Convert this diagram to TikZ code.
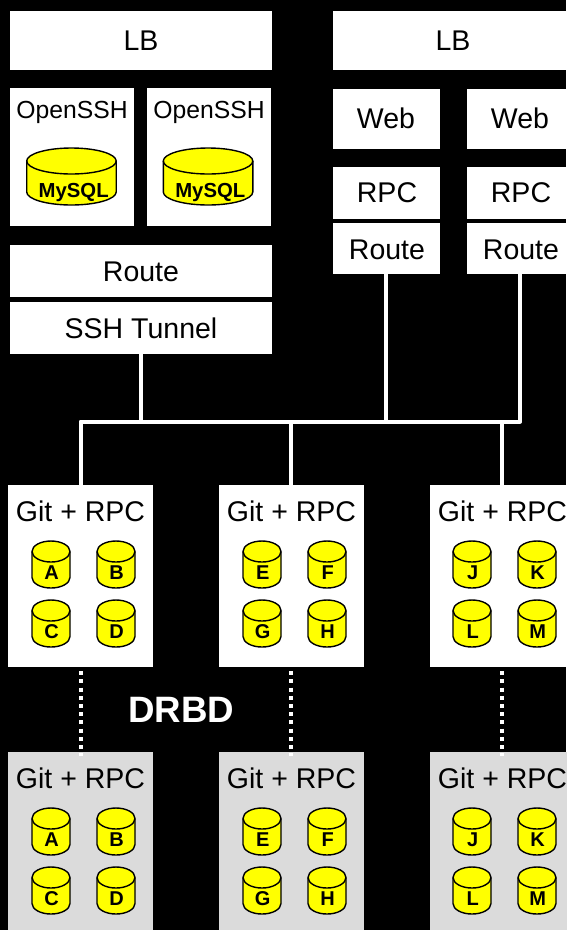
\documentclass[tikz,border=0pt]{standalone}
\usepackage{fontspec}
\setmainfont{Liberation Sans}
\definecolor{cylyellow}{RGB}{255,255,0}
\newcommand{\cylshape}[5]{% x, y, w, h, ry
  \path[cylfill] (#1,#2+#5) arc[start angle=180,end angle=360,x radius=#3/2,y radius=#5]
    -- (#1+#3,#2+#4-#5) arc[start angle=0,end angle=180,x radius=#3/2,y radius=#5] -- cycle;
  \draw[cylline] (#1,#2+#5) arc[start angle=180,end angle=540,x radius=#3/2,y radius=#5];
  \draw[cylline] (#1,#2+#5) -- (#1,#2+#4-#5) arc[start angle=180,end angle=0,x radius=#3/2,y radius=#5] -- (#1+#3,#2+#5);
}
\newcommand{\smallcyl}[3]{\cylshape{#1}{#2}{38}{47}{10.5}%
  \node[cyltext] at (#1+19.7,#2+38.3) {#3};}
\newcommand{\bigcyl}[2]{\cylshape{#1}{#2}{89.5}{57}{13}%
  \node[cyltext,font=\fontsize{20.3}{22}\selectfont\bfseries] at (#1+47,#2+49.3) {MySQL};}
\newcommand{\gitbox}[4]{% name, x, y, style
  \node[#4,minimum width=145pt,minimum height=182pt] (#1) at (#2+72.5,#3+91) {};
  \node[boxtext] (#1t) at (#2+72.5,#3+36) {Git + RPC};
}
\newcommand{\fourcyl}[6]{% x, y, A,B,C,D
  \smallcyl{#1+24}{#2+56}{#3}\smallcyl{#1+89}{#2+56}{#4}%
  \smallcyl{#1+24}{#2+115}{#5}\smallcyl{#1+89}{#2+115}{#6}}
\begin{document}
\begin{tikzpicture}[x=1pt,y=-1pt,
  whitebox/.style={fill=white,draw=none,inner sep=0pt,outer sep=0pt},
  greybox/.style={fill=black!14,draw=none,inner sep=0pt,outer sep=0pt},
  boxtext/.style={inner sep=0pt,outer sep=0pt,anchor=base,font=\fontsize{28.5}{30}\selectfont,text=black},
  sshtext/.style={inner sep=0pt,outer sep=0pt,anchor=base,font=\fontsize{24.7}{26}\selectfont,text=black},
  cylfill/.style={fill=cylyellow},
  cylline/.style={draw=black,line width=1.4pt},
  cyltext/.style={inner sep=0pt,outer sep=0pt,anchor=base,font=\fontsize{20}{22}\selectfont\bfseries,text=black},
  conn/.style={draw=white,line width=4pt,line join=round},
  drbd/.style={draw=white,line width=4pt,dash pattern=on 4pt off 4.2pt},
]
\useasboundingbox[fill=black] (0,0) rectangle (566,930);
% top boxes
\node[whitebox,minimum width=262pt,minimum height=59.5pt] (lblbox) at (141,40.25) {};
\node[boxtext] (lbl) at (141,50) {LB};
\node[whitebox,minimum width=240pt,minimum height=59.5pt] (lbrbox) at (452.7,40.25) {};
\node[boxtext] (lbr) at (453,50) {LB};
\node[whitebox,minimum width=124pt,minimum height=138pt] (ssha) at (72,157) {};
\node[whitebox,minimum width=124pt,minimum height=138pt] (sshb) at (209,157) {};
\node[sshtext] (sshat) at (72,118) {OpenSSH};
\node[sshtext] (sshbt) at (209,118) {OpenSSH};
\bigcyl{26.7}{148}
\bigcyl{163.3}{148}
\node[whitebox,minimum width=262pt,minimum height=52pt] (routelbox) at (141,271) {};
\node[boxtext] (routel) at (141,281.7) {Route};
\node[whitebox,minimum width=262pt,minimum height=52pt] (tunnelbox) at (141,328.2) {};
\node[boxtext] (tunnel) at (141,338.5) {SSH Tunnel};
% right stacks
\node[whitebox,minimum width=107.5pt,minimum height=60pt] (webabox) at (386.5,118.5) {};
\node[boxtext] (weba) at (386,128.3) {Web};
\node[whitebox,minimum width=107.5pt,minimum height=52.5pt] (rpcabox) at (386.5,193) {};
\node[boxtext] (rpca) at (387,202.7) {RPC};
\node[whitebox,minimum width=107.5pt,minimum height=51pt] (routeabox) at (386.5,248.8) {};
\node[boxtext] (routea) at (387,259.3) {Route};
\node[whitebox,minimum width=107.5pt,minimum height=60pt] (webbbox) at (520.75,118.5) {};
\node[boxtext] (webb) at (520,128.3) {Web};
\node[whitebox,minimum width=107.5pt,minimum height=52.5pt] (rpcbbox) at (520.75,193) {};
\node[boxtext] (rpcb) at (521,202.7) {RPC};
\node[whitebox,minimum width=107.5pt,minimum height=51pt] (routebbox) at (520.75,248.8) {};
\node[boxtext] (routeb) at (521,259.3) {Route};
% git boxes
\gitbox{ga}{8}{485}{whitebox}
\gitbox{gb}{219}{485}{whitebox}
\gitbox{gc}{430}{485}{whitebox}
\gitbox{sa}{8}{752}{greybox}
\gitbox{sb}{219}{752}{greybox}
\gitbox{sc}{430}{752}{greybox}
\fourcyl{8}{485}{A}{B}{C}{D}
\fourcyl{219}{485}{E}{F}{G}{H}
\fourcyl{429}{485}{J}{K}{L}{M}
\fourcyl{8}{752}{A}{B}{C}{D}
\fourcyl{219}{752}{E}{F}{G}{H}
\fourcyl{429}{752}{J}{K}{L}{M}
% connectors
\coordinate (bus) at (141,421.5);
\draw[conn] ([yshift=4pt]tunnelbox.south) -- (bus);
\draw[conn] ([yshift=4pt,xshift=-0.5pt]routeabox.south) -- ([xshift=-0.5pt]routeabox.south |- bus);
\draw[conn] ([yshift=4pt,xshift=-0.5pt]routebbox.south) -- ([xshift=-0.5pt]routebbox.south |- bus) -- (ga.north |- bus) -- ([yshift=-4pt]ga.north);
\draw[conn] ([xshift=-0.4pt]gb.north |- bus) -- ([yshift=-4pt,xshift=-0.4pt]gb.north);
\draw[conn] ([xshift=-0.8pt]gc.north |- bus) -- ([yshift=-4pt,xshift=-0.8pt]gc.north);
\draw[drbd] ([yshift=4pt]ga.south) -- ([yshift=-4pt]sa.north);
\draw[drbd] ([yshift=4pt,xshift=-0.4pt]gb.south) -- ([yshift=-4pt,xshift=-0.4pt]sb.north);
\draw[drbd] ([yshift=4pt,xshift=-0.8pt]gc.south) -- ([yshift=-4pt,xshift=-0.8pt]sc.north);
\node[inner sep=0pt,anchor=base,text=white,font=\fontsize{36.7}{38}\selectfont\bfseries] (drbdlabel) at (181.3,722) {DRBD};
\end{tikzpicture}
\end{document}
